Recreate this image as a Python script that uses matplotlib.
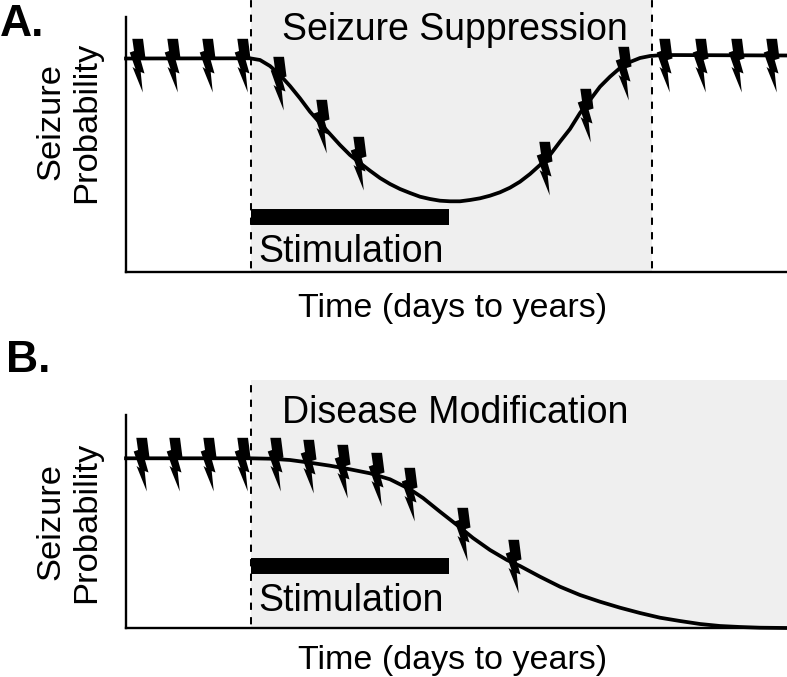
import matplotlib
matplotlib.use("Agg")
import matplotlib.pyplot as plt
from matplotlib.path import Path
from matplotlib.transforms import Affine2D

W, H = 787, 677

# curves: x position, height above the time axis
time_a = [126, 250, 260, 270, 280, 290, 300, 310, 320, 330, 340, 350, 360, 370, 380, 390, 400, 410, 420, 430, 440, 450, 460,
          470, 480, 490, 500, 510, 520, 530, 540, 550, 560, 570, 580, 590, 600, 610, 620, 630, 640, 650, 663, 787]
prob_a = [213.5, 213.7, 212, 206, 197, 186, 173.7, 160.3, 149, 138, 127, 117, 109, 101.3, 94, 88, 83, 79, 75.3, 73, 71.3, 70.7, 70.7,
          72, 73.7, 76.3, 79.7, 84.3, 90.3, 98, 107, 117, 130.3, 143, 159, 172, 185.3, 195.3, 204, 210, 214, 216, 217, 216.5]
time_b = [126, 250, 270, 290, 310, 330, 350, 370, 390, 410, 423, 440, 457, 473, 490, 507, 520, 540, 560, 580, 600, 620, 640, 660, 680,
          700, 720, 740, 760, 787]
prob_b = [169.7, 169.7, 169.3, 168, 165.3, 162.3, 158.7, 154.7, 148.7, 138.7, 130, 116.3, 103, 90, 78, 68, 62, 51.3, 41.3, 33, 26.3,
          20.3, 15, 10.3, 7, 4, 2, 1, 0.3, 0]

# seizures (lightning bolts)
seiz_x_a = [137, 172, 207, 242, 278, 321, 358, 544, 585, 623, 664, 700, 736, 771]
seiz_y_a = [213, 213, 213, 213, 195, 152, 115, 110, 163, 205, 213, 213, 213, 213]
seiz_x_b = [141, 174, 208, 242, 275, 308, 342, 376, 409, 462, 513]
seiz_y_b = [170.5, 170.5, 170.5, 170.5, 170.5, 168, 163, 155.5, 140.5, 100.5, 68]

stim_start, stim_end = 251, 449
stim_y_a, stim_y_b = 55, 62.5
shade_end_a = 652
shade_end_b = 787

bolt = Path([(-5.2, -20.7), (5.5, -20.7), (8, -1), (3.2, 0.5), (7, 14), (3.2, 12.5), (5.3, 33), (-5, 7.5), (-2, 9.5),
             (-7.8, -7), (-3.5, -8.5), (-5.2, -20.7)], closed=True)
bolt = bolt.transformed(Affine2D().scale(1, -1))

plt.rcParams["font.family"] = ["Liberation Sans", "DejaVu Sans"]
fig = plt.figure(figsize=(W / 100, H / 100), dpi=100)

dash = (5.4, (3.6, 3.6))


def panel(top, bottom, axis_top, x, y, sx, sy, shade_end, stim_y):
    ax = fig.add_axes([126 / W, 1 - bottom / H, (W - 126) / W, (bottom - top) / H])
    ax.set_xlim(126, W)
    ax.set_ylim(0, bottom - top)
    ax.axvspan(251, shade_end, color="#efefef", lw=0, zorder=0)
    ax.axvline(251, color="black", lw=1.45, ls=dash, zorder=1)
    if shade_end < W:
        ax.axvline(shade_end, color="black", lw=1.45, ls=dash, zorder=1)
    ax.plot(x, y, color="black", lw=2.7, zorder=2, clip_on=False, solid_joinstyle="round")
    # marker is scaled on its largest coordinate (33 px), so size = 66 px in points
    ax.plot(sx, sy, ls="none", marker=bolt, ms=66 * 0.72, color="black", mew=0, zorder=3, clip_on=False)
    ax.hlines(stim_y, stim_start, stim_end, color="black", lw=11.5, zorder=3)
    for s in ["top", "right"]:
        ax.spines[s].set_visible(False)
    for s in ["left", "bottom"]:
        ax.spines[s].set_linewidth(1.7)
    ax.spines["left"].set_bounds(0, bottom - axis_top)
    ax.set_xticks([])
    ax.set_yticks([])
    ax.patch.set_alpha(0)
    return ax


panel(0, 272, 17, time_a, prob_a, seiz_x_a, seiz_y_a, shade_end_a, stim_y_a)
panel(380, 628, 415, time_b, prob_b, seiz_x_b, seiz_y_b, shade_end_b, stim_y_b)


def label(x, y, s, **kw):
    kw.setdefault("fontsize", 27)
    kw.setdefault("va", "center")
    fig.text(x / W, 1 - y / H, s, **kw)


label(0, 25, "A.", fontweight="bold", fontsize=32)
label(6, 361, "B.", fontweight="bold", fontsize=32)
label(282, 30, "Seizure Suppression")
label(282, 413, "Disease Modification")
label(258, 252, "Stimulation")
label(258, 601, "Stimulation")
label(453, 308, "Time (days to years)", ha="center", fontsize=24.5)
label(453, 661, "Time (days to years)", ha="center", fontsize=24.5)
label(69, 122, "Seizure\nProbability", rotation=90, ha="center", linespacing=1.2, fontsize=24.8)
label(69, 522, "Seizure\nProbability", rotation=90, ha="center", linespacing=1.2, fontsize=24.8)

fig.savefig("out.png", dpi=100)
